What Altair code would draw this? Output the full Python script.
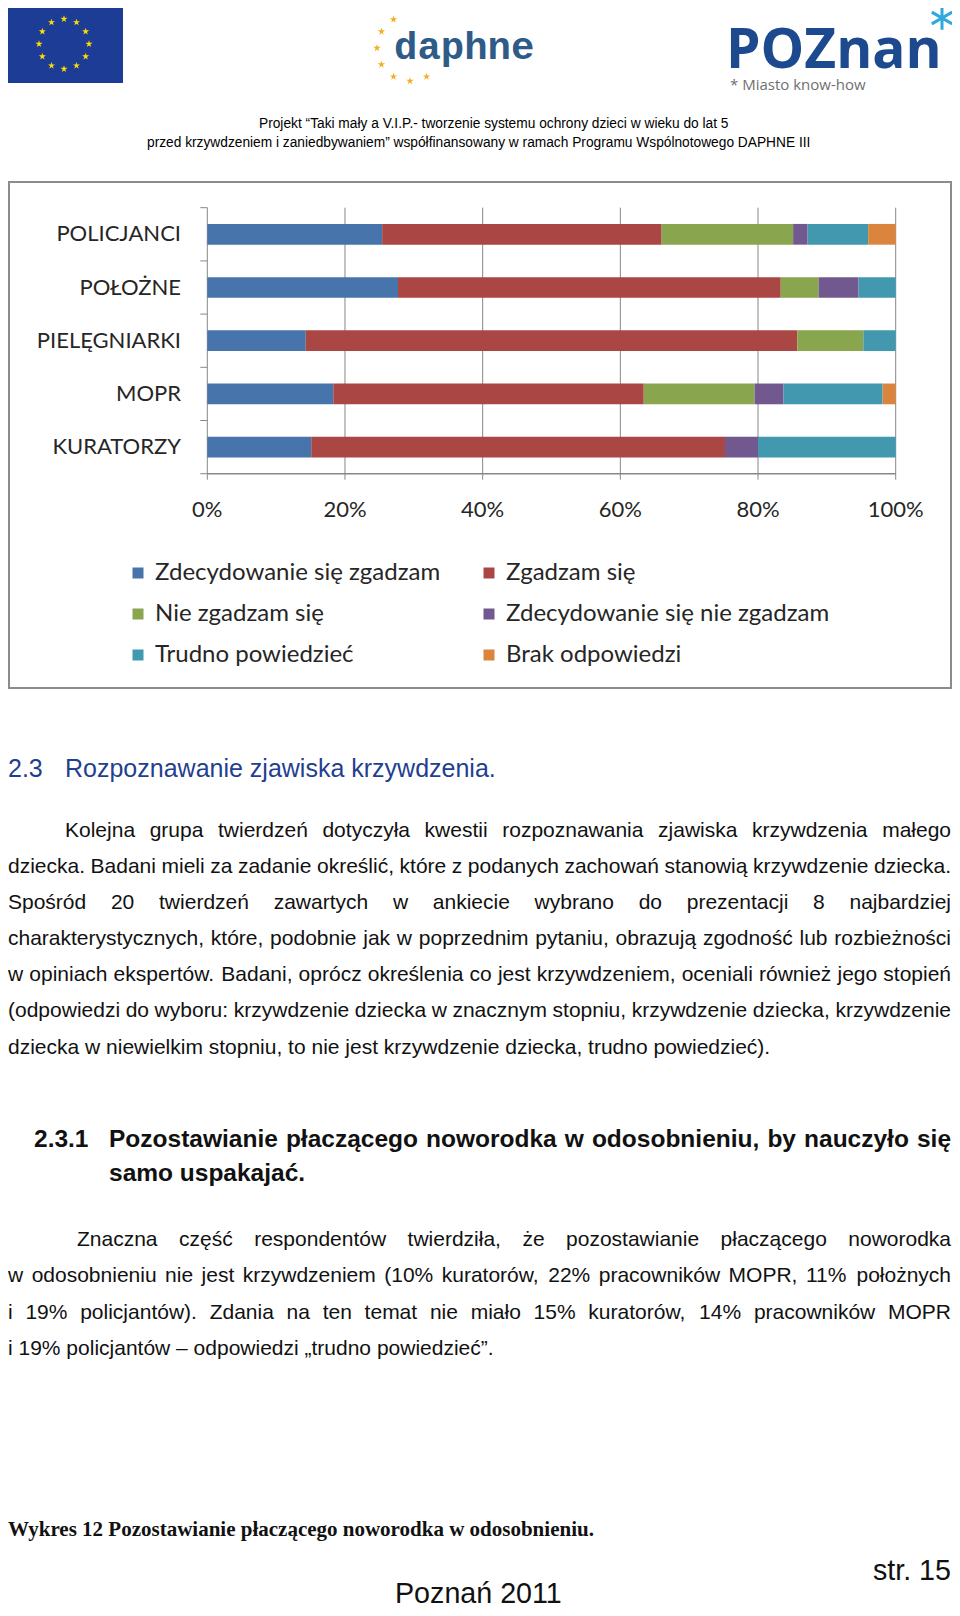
import altair as alt
import pandas as pd

# ---------------- data ----------------
categories = ["POLICJANCI", "POŁOŻNE", "PIELĘGNIARKI", "MOPR", "KURATORZY"]
series = ["Zdecydowanie się zgadzam", "Zgadzam się", "Nie zgadzam się",
          "Zdecydowanie się nie zgadzam", "Trudno powiedzieć", "Brak odpowiedzi"]
colors = ["#4674AB", "#AA4644", "#89A54E", "#71588F", "#4198AF", "#DB843D"]
zdecydowanie_zgadzam = [25.4, 27.7, 14.3, 18.3, 15.1]
zgadzam = [40.6, 55.6, 71.4, 45.1, 60.1]
nie_zgadzam = [19.1, 5.5, 9.6, 16.1, 0.0]
zdecydowanie_nie = [2.1, 5.8, 0.0, 4.2, 4.8]
trudno = [8.8, 5.4, 4.7, 14.4, 20.0]
brak = [4.0, 0.0, 0.0, 1.9, 0.0]
tick_values = [0.0, 0.2, 0.4, 0.6, 0.8, 1.0]
tick_labels = ["0%", "20%", "40%", "60%", "80%", "100%"]
# legend is laid out column by column: this order gives the reference's rows
legend_order = [0, 2, 4, 1, 3, 5]

header_lines = [
    "Projekt \u201cTaki mały a V.I.P.- tworzenie systemu ochrony dzieci w wieku do lat 5",
    "przed krzywdzeniem i zaniedbywaniem\u201d współfinansowany w ramach Programu Wspólnotowego DAPHNE III",
]
para1 = [
    "Kolejna grupa twierdzeń dotyczyła kwestii rozpoznawania zjawiska krzywdzenia małego",
    "dziecka. Badani mieli za zadanie określić, które z podanych zachowań stanowią krzywdzenie dziecka.",
    "Spośród 20 twierdzeń zawartych w ankiecie wybrano do prezentacji 8 najbardziej",
    "charakterystycznych, które, podobnie jak w poprzednim pytaniu, obrazują zgodność lub rozbieżności",
    "w opiniach ekspertów. Badani, oprócz określenia co jest krzywdzeniem, oceniali również jego stopień",
    "(odpowiedzi do wyboru: krzywdzenie dziecka w znacznym stopniu, krzywdzenie dziecka, krzywdzenie",
    "dziecka w niewielkim stopniu, to nie jest krzywdzenie dziecka, trudno powiedzieć).",
]
heading2 = ["Pozostawianie płaczącego noworodka w odosobnieniu, by nauczyło się", "samo uspakajać."]
para2 = [
    "Znaczna część respondentów twierdziła, że pozostawianie płaczącego noworodka",
    "w odosobnieniu nie jest krzywdzeniem (10% kuratorów, 22% pracowników MOPR, 11% położnych",
    "i 19% policjantów). Zdania na ten temat nie miało 15% kuratorów, 14% pracowników MOPR",
    "i 19% policjantów \u2013 odpowiedzi \u201etrudno powiedzieć\u201d.",
]

# ---------------- font metrics (Arial / Liberation Sans, per 1000 em) ----------------
REG = {" ": 278, "!": 278, "\"": 355, "%": 889, "(": 333, ")": 333, ",": 278, "-": 333, ".": 278,
       "/": 278, ":": 278, ";": 278, "\u2013": 556, "\u201e": 333, "\u201d": 333, "\u201c": 333}
BOLD = {" ": 278, "!": 333, "\"": 474, "%": 889, "(": 333, ")": 333, ",": 278, "-": 333, ".": 278,
        "/": 278, ":": 333, ";": 333, "\u2013": 556, "\u201e": 500, "\u201d": 500, "\u201c": 500}
for d in "0123456789":
    REG[d] = 556
    BOLD[d] = 556
up_r = dict(A=667, B=667, C=722, D=722, E=667, F=611, G=778, H=722, I=278, J=500, K=667, L=556, M=833,
            N=722, O=778, P=667, Q=778, R=722, S=667, T=611, U=722, V=667, W=944, X=667, Y=667, Z=611)
lo_r = dict(a=556, b=556, c=500, d=556, e=556, f=278, g=556, h=556, i=222, j=222, k=500, l=222, m=833,
            n=556, o=556, p=556, q=556, r=333, s=500, t=278, u=556, v=500, w=722, x=500, y=500, z=500)
up_b = dict(A=722, B=722, C=722, D=722, E=667, F=611, G=778, H=722, I=278, J=556, K=722, L=611, M=833,
            N=722, O=778, P=667, Q=778, R=722, S=667, T=611, U=722, V=667, W=944, X=667, Y=667, Z=611)
lo_b = dict(a=556, b=611, c=556, d=611, e=556, f=333, g=611, h=611, i=278, j=278, k=556, l=278, m=889,
            n=611, o=611, p=611, q=611, r=389, s=556, t=333, u=611, v=556, w=778, x=556, y=556, z=500)
REG.update(up_r); REG.update(lo_r); BOLD.update(up_b); BOLD.update(lo_b)
alias = {"ą": "a", "ę": "e", "ć": "c", "ń": "n", "ó": "o", "ś": "s", "ź": "z", "ż": "z", "ł": "l",
         "Ł": "L", "Ż": "Z", "Ś": "S", "Ę": "E", "Ó": "O"}


def em(s, table):
    return sum(table.get(alias.get(ch, ch), 556) for ch in s) / 1000.0


def justify(line, x0, x1, y, size, table):
    words = line.split(" ")
    widths = [em(w, table) * size for w in words]
    gap = (x1 - x0 - sum(widths)) / (len(words) - 1)
    out, x = [], x0
    for w, wd in zip(words, widths):
        out.append({"t": w, "x": x, "y": y})
        x += wd + gap
    return out


def text_layer(rows, font, size, color, weight="normal", align="left", baseline="middle"):
    return alt.Chart(pd.DataFrame(rows)).mark_text(
        font=font, fontSize=size, color=color, fontWeight=weight, align=align, baseline=baseline
    ).encode(
        x=alt.X("x:Q", scale=None, axis=None),
        y=alt.Y("y:Q", scale=None, axis=None),
        text="t:N",
    )


BODY = "Liberation Sans, Arial, sans-serif"
CHARTF = "Lato, Open Sans, sans-serif"
RIGHT = 943

# ---------------- bar chart ----------------
rows = []
for si, (name, vals) in enumerate(zip(series, [zdecydowanie_zgadzam, zgadzam, nie_zgadzam,
                                                  zdecydowanie_nie, trudno, brak])):
    for c, v in zip(categories, vals):
        if v > 0:
            rows.append({"cat": c, "s": name, "v": v, "o": si})
bars_df = pd.DataFrame(rows)
ticks_df = pd.DataFrame({"t": tick_values, "lab": tick_labels})
cats_df = pd.DataFrame({"cat": categories})

XS = alt.Scale(domain=[0, 1], range=[199.3, 887.7])
YS = alt.Scale(domain=categories, range=[199.7, 465.7], paddingInner=0, paddingOuter=0)
GRID = "#878787"

box = alt.Chart(pd.DataFrame({"a": [0]})).mark_rect(fillOpacity=0, stroke="#8c8c8c", strokeWidth=2).encode(
    x=alt.value(1), x2=alt.value(943), y=alt.value(174), y2=alt.value(680))

grid = alt.Chart(ticks_df).mark_rule(color=GRID, strokeWidth=1).encode(
    x=alt.X("t:Q", scale=XS, axis=None), y=alt.value(199.7), y2=alt.value(465.7))
xticks = alt.Chart(ticks_df).mark_rule(color=GRID, strokeWidth=1).encode(
    x=alt.X("t:Q", scale=XS, axis=None), y=alt.value(465.7), y2=alt.value(471.7))
xaxis = alt.Chart(pd.DataFrame({"a": [0]})).mark_rule(color=GRID, strokeWidth=1.5).encode(
    x=alt.datum(0, scale=XS, axis=None), x2=alt.datum(1), y=alt.value(465.7))
yticks = alt.Chart(cats_df).mark_rule(color=GRID, strokeWidth=1).encode(
    y=alt.Y("cat:N", sort=categories, scale=YS, axis=None, bandPosition=0),
    x=alt.value(192.3), x2=alt.value(199.3))
ytick_end = alt.Chart(pd.DataFrame({"a": [0]})).mark_rule(color=GRID, strokeWidth=1).encode(
    y=alt.value(465.7), x=alt.value(192.3), x2=alt.value(199.3))

leg_domain = [series[i] for i in legend_order]
leg_range = [colors[i] for i in legend_order]
bars = alt.Chart(bars_df).mark_bar(height={"band": 0.39}).encode(
    x=alt.X("v:Q", stack="normalize", scale=XS, axis=None),
    y=alt.Y("cat:N", sort=categories, scale=YS, axis=None),
    color=alt.Color("s:N", scale=alt.Scale(domain=leg_domain, range=leg_range),
                    legend=alt.Legend(title=None, orient="none", legendX=118, legendY=553, columns=2,
                                      columnPadding=36, rowPadding=17, symbolType="square",
                                      symbolSize=121, symbolStrokeWidth=0, labelFont=CHARTF,
                                      labelFontSize=24, labelColor="#262626", labelOffset=5,
                                      labelLimit=500, padding=0)),
    order=alt.Order("o:Q", sort="ascending"),
)

tick_text = alt.Chart(ticks_df).mark_text(font=CHARTF, fontSize=22, color="#262626",
                                           align="center", baseline="middle").encode(
    x=alt.X("t:Q", scale=XS, axis=None), y=alt.value(502), text="lab:N")
cat_text = alt.Chart(cats_df).mark_text(font=CHARTF, fontSize=22, color="#262626",
                                         align="right", baseline="middle").encode(
    y=alt.Y("cat:N", sort=categories, scale=YS, axis=None), x=alt.value(173), text="cat:N")

# ---------------- logos ----------------
STAR = "M0,-1L0.2245,-0.309L0.9511,-0.309L0.3633,0.118L0.5878,0.809L0,0.382L-0.5878,0.809L-0.3633,0.118L-0.9511,-0.309L-0.2245,-0.309Z"
eu_flag = alt.Chart(pd.DataFrame({"a": [0]})).mark_rect(color="#1D3C96").encode(
    x=alt.value(0), x2=alt.value(115), y=alt.value(0), y2=alt.value(75))
eu_stars = alt.Chart(pd.DataFrame({"a": list(range(0, 360, 30))})).transform_calculate(
    px="56 + 25*sin(datum.a*PI/180)", py="36 - 25*cos(datum.a*PI/180)"
).mark_point(shape=STAR, filled=True, size=55, color="#FFDD00", opacity=1, strokeWidth=0).encode(
    x=alt.X("px:Q", scale=None, axis=None), y=alt.Y("py:Q", scale=None, axis=None))
daphne_stars = alt.Chart(pd.DataFrame({"a": [240, 210, 180, 150, 120, 90, 60]})).transform_calculate(
    px="402 + 33*cos(datum.a*PI/180)", py="40 + 33*sin(datum.a*PI/180)"
).mark_point(shape=STAR, filled=True, size=60, color="#F2AE1C", opacity=1, strokeWidth=0).encode(
    x=alt.X("px:Q", scale=None, axis=None), y=alt.Y("py:Q", scale=None, axis=None))
daphne_txt = text_layer([{"t": "daphne", "x": 386, "y": 39}], "Liberation Mono, monospace", 39,
                        "#2E5B87", weight="bold")
poznan_txt = text_layer([{"t": "POZnan", "x": 718, "y": 59.5}], "Open Sans, sans-serif", 55,
                        "#1D4A8F", weight="bold", baseline="alphabetic")
ASTER = "M0,-1L0,1M-0.866,-0.5L0.866,0.5M-0.866,0.5L0.866,-0.5"
poznan_star = alt.Chart(pd.DataFrame({"px": [934], "py": [10]})).mark_point(
    shape=ASTER, filled=False, size=560, color="#2FA8E0", strokeWidth=3, opacity=1).encode(
    x=alt.X("px:Q", scale=None, axis=None), y=alt.Y("py:Q", scale=None, axis=None))
miasto_txt = text_layer([{"t": "* Miasto know-how", "x": 722, "y": 77}], "Open Sans, sans-serif", 15,
                        "#707070")

# ---------------- page text ----------------
fs_head = 664 / em(header_lines[1], REG)
head_txt = text_layer([{"t": header_lines[0], "x": 251, "y": 116},
                       {"t": header_lines[1], "x": 139, "y": 135}], BODY, fs_head, "#000000")

h1_txt = text_layer([{"t": "2.3", "x": 0, "y": 761},
                     {"t": "Rozpoznawanie zjawiska krzywdzenia.", "x": 57, "y": 761}],
                    BODY, 25, "#1F3F8F")

BS = 21
p_rows = []
p1_y = [823, 859, 895, 931, 967, 1003, 1040]
for i, (line, y) in enumerate(zip(para1, p1_y)):
    x0 = 57 if i == 0 else 0
    if i < len(para1) - 1:
        p_rows += justify(line, x0, RIGHT, y, BS, REG)
    else:
        p_rows.append({"t": line, "x": x0, "y": y})
p2_y = [1232, 1268, 1305, 1341]
for i, (line, y) in enumerate(zip(para2, p2_y)):
    x0 = 69 if i == 0 else 0
    if i < len(para2) - 1:
        p_rows += justify(line, x0, RIGHT, y, BS, REG)
    else:
        p_rows.append({"t": line, "x": x0, "y": y})
body_txt = text_layer(p_rows, BODY, BS, "#111111")

HS = 24.5
h2_rows = [{"t": "2.3.1", "x": 26, "y": 1132}]
h2_rows += justify(heading2[0], 101, RIGHT, 1132, HS, BOLD)
h2_rows.append({"t": heading2[1], "x": 101, "y": 1166})
h2_txt = text_layer(h2_rows, BODY, HS, "#111111", weight="bold")

caption_txt = text_layer([{"t": "Wykres 12 Pozostawianie płaczącego noworodka w odosobnieniu.", "x": 0, "y": 1522}],
                         "Liberation Serif, Times New Roman, serif", 21, "#111111", weight="bold")
fs_foot = 169 / em("Poznań 2011", REG)
str_txt = text_layer([{"t": "str. 15", "x": RIGHT, "y": 1563}], BODY, fs_foot, "#111111", align="right")
poz_txt = text_layer([{"t": "Poznań 2011", "x": 387, "y": 1586}], BODY, fs_foot, "#111111")

chart = alt.layer(
    eu_flag, eu_stars, daphne_stars, daphne_txt, poznan_txt, poznan_star, miasto_txt, head_txt,
    box, grid, xticks, xaxis, yticks, ytick_end, bars, tick_text, cat_text,
    h1_txt, body_txt, h2_txt, caption_txt, str_txt, poz_txt,
).resolve_scale(x="independent", y="independent").properties(
    width=944, height=1600, padding=0, autosize=alt.AutoSizeParams(type="none"),
    background="white",
).configure_view(strokeWidth=0)

chart.save("out.html", embed_options={"renderer": "svg", "actions": False})
